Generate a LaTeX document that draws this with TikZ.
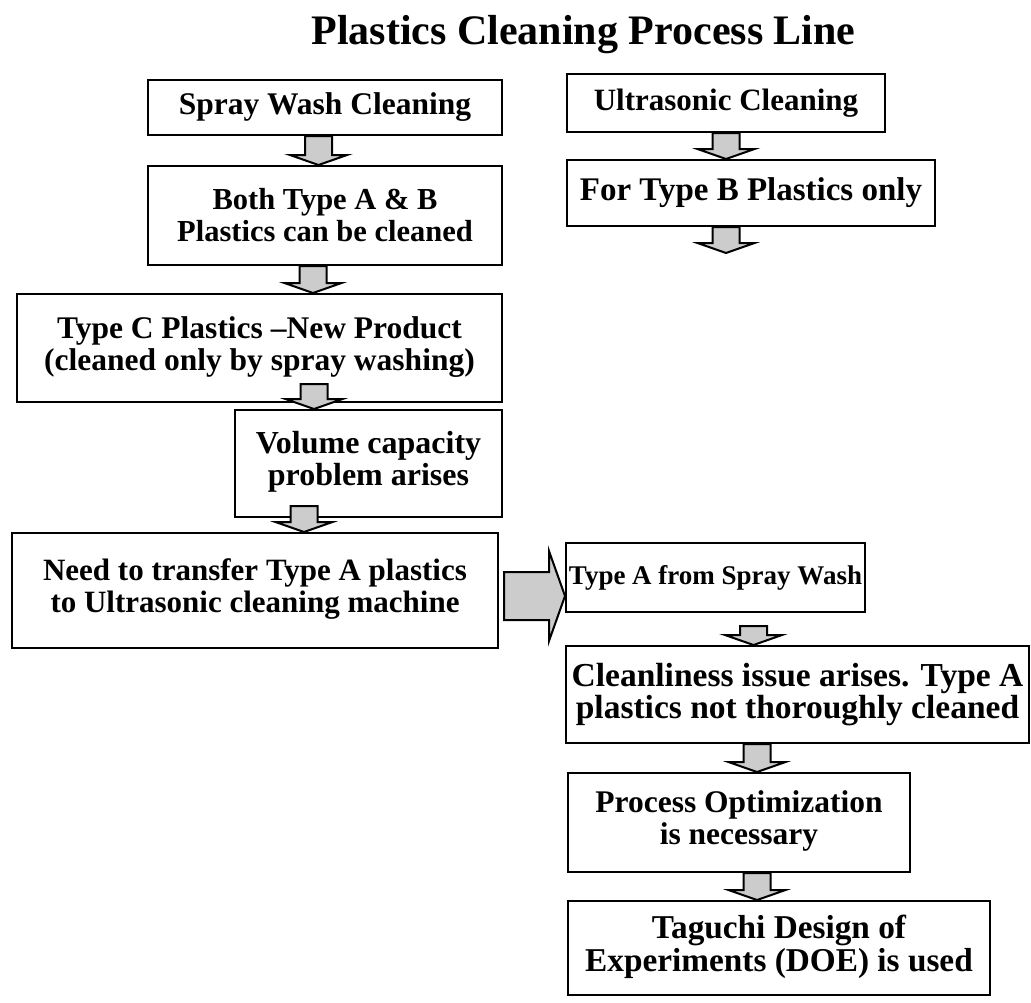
\documentclass[tikz,border=0pt]{standalone}
\usepackage{fontspec}
\setmainfont{Liberation Serif}
\usetikzlibrary{calc,positioning}
\tikzset{
  procbox/.style={draw, line width=2pt, inner sep=0pt, align=center,
    font=\fontsize{31}{32}\selectfont\bfseries},
  fsize/.style={font=\fontsize{#1}{32}\selectfont\bfseries},
  blockarrow/.style={draw, line width=2pt, fill=black!20, line join=miter}
}
% text of a box, lifted a little above the middle
\newcommand{\liftup}[2]{\raisebox{#1pt}{\begin{tabular}{@{}c@{}}#2\end{tabular}}}
% shaded block arrow pointing down: [gap] shaft x, from, to
\newcommand{\blockdown}[4][0]{%
  \draw[blockarrow] let \p1=(#3), \p2=(#4) in
    ({#2pt-13.5pt},{\y1-(#1pt)}) -- ({#2pt+13.5pt},{\y1-(#1pt)})
    -- ({#2pt+13.5pt},{\y2+10pt}) -- ({#2pt+28.5pt},{\y2+10pt})
    -- ({#2pt},\y2) -- ({#2pt-28.5pt},{\y2+10pt})
    -- ({#2pt-13.5pt},{\y2+10pt}) -- cycle;
}

\begin{document}
\begin{tikzpicture}[x=1pt,y=-1pt]
  \useasboundingbox (0,0) rectangle (1031,1002);
  \node[font=\fontsize{42}{46}\selectfont\bfseries, anchor=base] (title) at (583.5,44)
    {Plastics Cleaning Process Line};

  % spray wash column
  \node[procbox, fsize=31.5, minimum width=354pt, minimum height=55pt] (spray) at (325,107.5)
    {Spray Wash Cleaning};
  \node[procbox, fsize=30.5, minimum width=354pt, minimum height=99pt] (both) at (325,215.5)
    {Both Type A \& B\\Plastics can be cleaned};
  \node[procbox, fsize=31.5, minimum width=485pt, minimum height=108pt] (typeC) at (259.5,348)
    {\liftup{10}{Type C Plastics --New Product\\(cleaned only by spray washing)}};
  \node[procbox, fsize=32, minimum width=267pt, minimum height=107pt] (volume) at (368.5,463.5)
    {\liftup{14}{Volume capacity\\problem arises}};
  \node[procbox, minimum width=486pt, minimum height=115pt] (need) at (255,590.5)
    {\liftup{10}{Need to transfer Type A plastics\\to Ultrasonic cleaning machine}};

  % ultrasonic column
  \node[procbox, minimum width=318pt, minimum height=58pt] (ultra) at (726,103)
    {Ultrasonic Cleaning};
  \node[procbox, fsize=33, minimum width=368pt, minimum height=66pt] (typeB) at (751,193)
    {For Type B Plastics only};
  \coordinate (endB) at (726,253);

  \node[procbox, fsize=27, minimum width=299pt, minimum height=69pt] (typeA) at (715.5,577.5)
    {Type A from Spray Wash};
  \node[procbox, fsize=33.5, minimum width=463pt, minimum height=97pt] (clean) at (797.5,694.5)
    {Cleanliness issue arises. Type A\\plastics not thoroughly cleaned};
  \node[procbox, fsize=31.5, minimum width=342pt, minimum height=99pt] (process) at (739,822.5)
    {\liftup{7}{Process Optimization\\is necessary}};
  \node[procbox, fsize=33.3, minimum width=422pt, minimum height=94pt] (taguchi) at (779,948)
    {\liftup{-3}{Taguchi Design of\\Experiments (DOE) is used}};

  \blockdown{318.5}{spray.south}{both.north}
  \blockdown{313}{both.south}{typeC.north}
  \blockdown[-19]{314}{typeC.south}{volume.north}
  \blockdown[-12]{304}{volume.south}{need.north}
  \blockdown{726}{ultra.south}{typeB.north}
  \blockdown{726}{typeB.south}{endB}
  \blockdown[13]{753.5}{typeA.south}{clean.north}
  \blockdown{757}{clean.south}{process.north}
  \blockdown{757}{process.south}{taguchi.north}

  % big arrow across
  \coordinate (midA) at (0,596);
  \draw[blockarrow] let \p1=(need.east), \p2=(typeA.west), \p3=(midA) in
    ({\x1+5pt},{\y3+24pt}) -- ({\x2-16pt},{\y3+24pt}) -- ({\x2-16pt},{\y3+45pt})
    -- (\x2,\y3) -- ({\x2-16pt},{\y3-45pt}) -- ({\x2-16pt},{\y3-24pt})
    -- ({\x1+5pt},{\y3-24pt}) -- cycle;
\end{tikzpicture}
\end{document}
